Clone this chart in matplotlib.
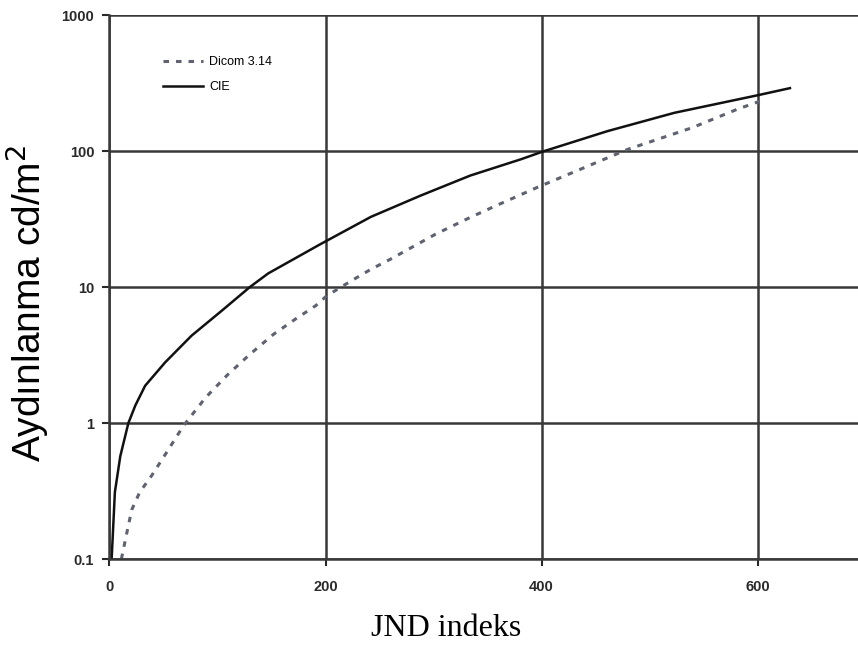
import matplotlib.pyplot as plt
import numpy as np

# values
cie_x = [2, 5, 10, 17.5, 24, 33, 51.5, 76, 104, 130, 147, 195, 242, 288, 334, 381,
         401, 461, 523, 600, 630]
cie_y = [0.1, 0.31, 0.57, 1.0, 1.35, 1.88, 2.79, 4.39, 6.7, 10, 12.6, 20.6, 32.8, 47,
         66, 87, 99, 140, 191, 257, 290]

dicom_x = [11, 16, 20.6, 28, 39, 53, 68.5, 89, 110, 130, 152, 172, 191, 201, 223,
           242, 260, 282, 302, 334, 359, 396, 437, 458, 480, 498, 539, 582, 602]
dicom_y = [0.1, 0.155, 0.23, 0.31, 0.41, 0.61, 0.955, 1.54, 2.29, 3.2, 4.5, 5.8, 7.3,
           8.6, 11, 13.5, 16.0, 20, 24.5, 32.5, 40, 54, 74, 87, 103, 115, 148, 204, 232]

xticks = [0, 200, 400, 600]
yticks = [0.1, 1, 10, 100, 1000]
ytick_labels = ['0.1', '1', '10', '100', '1000']

fig = plt.figure(figsize=(8.58, 6.45), dpi=100)
ax = fig.add_axes([0.1276, 0.1333, 0.8724, 0.8434])

ax.plot(dicom_x, dicom_y, color='#5f6371', lw=2.2, ls=(0, (1.8, 2.3)), label='Dicom 3.14')
ax.plot(cie_x, cie_y, color='#111111', lw=1.8, label='CIE')

ax.set_yscale('log')
ax.set_xlim(0, 693)
ax.set_ylim(0.1, 1000)
ax.set_xticks(xticks)
ax.set_yticks(yticks)
ax.set_yticklabels(ytick_labels)
ax.minorticks_off()
ax.tick_params(labelsize=10.5, colors='#2a2a2a', length=5, width=1.5)
ax.tick_params(axis='x', pad=10)
ax.tick_params(axis='y', pad=6)
for lab in ax.get_xticklabels() + ax.get_yticklabels():
    lab.set_fontweight('bold')
    lab.set_family('Liberation Sans')

ax.grid(True, color='#383838', lw=1.8)
ax.set_axisbelow(True)
for side in ['top', 'right']:
    ax.spines[side].set_visible(False)
for side in ['left', 'bottom']:
    ax.spines[side].set_color('#383838')
    ax.spines[side].set_linewidth(1.8)

fig.text(27 / 858, 1 - 303 / 645, 'Aydınlanma cd/m$^2$', fontsize=28,
         family='Liberation Sans', rotation=90, ha='center', va='center')
fig.text(446 / 858, 9 / 645, 'JND indeks', fontsize=23, family='Liberation Serif',
         ha='center', va='baseline')

ax.legend(loc='upper left', bbox_to_anchor=(158 / 858, 1 - 51 / 645),
          bbox_transform=fig.transFigure, borderaxespad=0, frameon=False,
          prop={'family': 'Liberation Sans', 'size': 9}, handlelength=3.2,
          handletextpad=0.5, labelspacing=1.05)

fig.savefig('out.png', dpi=100)
